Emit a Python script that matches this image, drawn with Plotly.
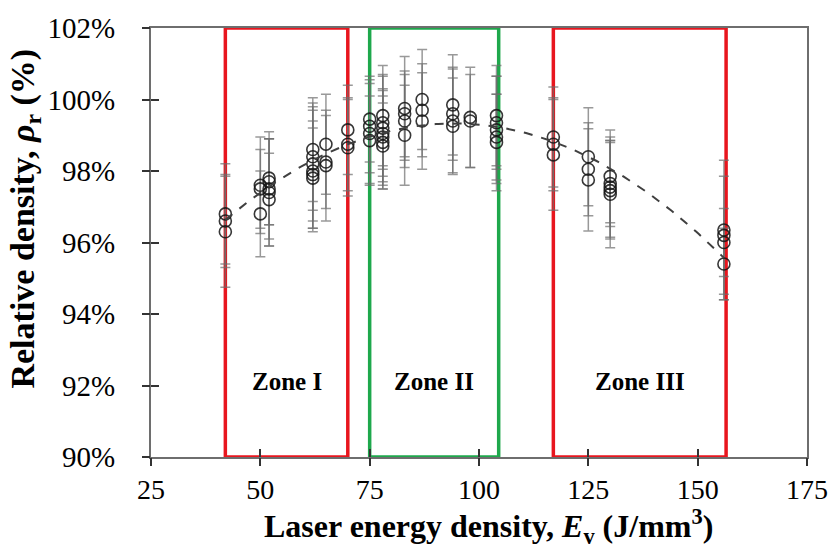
import numpy as np
import plotly.graph_objects as go

# ---- data ----
energy_density = [
    42, 42, 42,
    50, 50, 50,
    52, 52, 52, 52, 52,
    62, 62, 62, 62, 62, 62,
    65, 65, 65,
    70, 70, 70,
    75, 75, 75, 75,
    78, 78, 78, 78, 78, 78, 78,
    83, 83, 83, 83,
    87, 87, 87,
    94, 94, 94, 94,
    98, 98,
    104, 104, 104, 104, 104,
    117, 117, 117,
    125, 125, 125,
    130, 130, 130, 130, 130,
    156, 156, 156, 156,
]
relative_density = [
    96.8, 96.6, 96.3,
    97.6, 97.5, 96.8,
    97.8, 97.7, 97.5, 97.4, 97.2,
    98.6, 98.4, 98.2, 98.0, 97.9, 97.8,
    98.75, 98.25, 98.15,
    99.15, 98.75, 98.65,
    99.45, 99.25, 99.05, 98.85,
    99.55, 99.35, 99.2, 99.05, 98.95, 98.8, 98.7,
    99.75, 99.6, 99.4, 99.0,
    100.0, 99.7, 99.4,
    99.85, 99.6, 99.4, 99.25,
    99.5, 99.4,
    99.55, 99.35, 99.15, 98.95, 98.8,
    98.95, 98.75, 98.45,
    98.4, 98.05, 97.75,
    97.85, 97.65, 97.55, 97.45, 97.35,
    96.35, 96.2, 96.0, 95.4,
]
density_sd = [
    1.4, 1.3, 1.55,
    1.35, 1.1, 1.2,
    1.3, 1.2, 1.4, 1.5, 1.3,
    1.45, 1.5, 1.6, 1.7, 1.5, 1.4,
    1.4, 1.3, 1.55,
    1.25, 1.3, 1.35,
    1.2, 1.3, 1.4, 1.25,
    1.4, 1.3, 1.5, 1.2, 1.35, 1.3, 1.2,
    1.45, 1.2, 1.3, 1.4,
    1.4, 1.3, 1.35,
    1.4, 1.3, 1.45, 1.35,
    1.4, 1.3,
    1.4, 1.3, 1.5, 1.2, 1.35,
    1.4, 1.3, 1.55,
    1.37, 1.3, 1.43,
    1.3, 1.2, 1.4, 1.35, 1.5,
    1.95, 1.65, 0.95, 1.0,
]

zone_names = ["Zone I", "Zone II", "Zone III"]
zone_start = [42, 75, 117]
zone_end = [70, 104.5, 156.5]
zone_colors = ["#e8161e", "#1ea84c", "#e8161e"]

x_ticks = [25, 50, 75, 100, 125, 150, 175]
y_ticks = [90, 92, 94, 96, 98, 100, 102]
y_tick_text = ["90%", "92%", "94%", "96%", "98%", "100%", "102%"]

# ---- quadratic trend line (fitted to the data, as in the source) ----
coef = np.polyfit(energy_density, relative_density, 2)
trend_x = np.linspace(min(energy_density), max(energy_density), 200)
trend_y = np.polyval(coef, trend_x)

serif = "Liberation Serif"

fig = go.Figure()

fig.add_trace(go.Scatter(
    x=energy_density, y=relative_density, mode="markers",
    marker=dict(symbol="circle-open", size=12, color="rgba(20,20,20,0.85)",
                line=dict(width=1.6)),
    error_y=dict(type="data", array=density_sd, visible=True,
                 color="rgba(110,110,110,0.7)", thickness=1.5, width=5),
    showlegend=False,
))

fig.add_trace(go.Scatter(
    x=trend_x, y=trend_y, mode="lines",
    line=dict(color="#404040", width=2, dash="dash"),
    showlegend=False, hoverinfo="skip",
))

# invisible trace on overlay axes to draw the outer half of crossing tick marks
fig.add_trace(go.Scatter(x=[None], y=[None], xaxis="x2", yaxis="y2",
                         showlegend=False, hoverinfo="skip"))

shapes = []
annotations = []
for name, x0, x1, c in zip(zone_names, zone_start, zone_end, zone_colors):
    shapes.append(dict(type="rect", xref="x", yref="y", x0=x0, x1=x1,
                       y0=y_ticks[0], y1=y_ticks[-1],
                       line=dict(color=c, width=3.5), layer="below"))
    annotations.append(dict(x=(x0 + x1) / 2, y=92.1, xref="x", yref="y",
                            text="<b>%s</b>" % name, showarrow=False,
                            font=dict(family=serif, size=25, color="black")))

annotations.append(dict(
    x=-0.192, y=0.556, xref="paper", yref="paper", textangle=-90,
    xanchor="center", yanchor="middle",
    text="<b>Relative density, <i>ρ</i><sub>r</sub> (%)</b>", showarrow=False,
    font=dict(family=serif, size=34, color="black")))
annotations.append(dict(
    x=0.514, y=-0.163, xref="paper", yref="paper",
    xanchor="center", yanchor="middle",
    text="<b>Laser energy density, <i>E</i><sub>v</sub> (J/mm<sup>3</sup>)</b>",
    showarrow=False, font=dict(family=serif, size=32, color="black")))

axis_line = "#6e6e6e"
fig.update_layout(
    width=840, height=554,
    margin=dict(l=151, r=27, t=26, b=97),
    paper_bgcolor="white", plot_bgcolor="white",
    shapes=shapes, annotations=annotations,
    font=dict(family=serif),
    xaxis=dict(range=[25, 175], tickmode="array", tickvals=x_ticks,
               showgrid=False, zeroline=False,
               showline=True, linecolor=axis_line, linewidth=2, mirror=True,
               ticks="inside", ticklen=8, tickwidth=1.5, tickcolor="#333",
               ticklabelstandoff=6,
               tickfont=dict(family=serif, size=28, color="black")),
    yaxis=dict(range=[90, 102], tickmode="array", tickvals=y_ticks,
               ticktext=y_tick_text, showgrid=False,
               zeroline=False, showline=True, linecolor=axis_line, linewidth=2,
               mirror=True, ticks="inside", ticklen=8, tickwidth=1.5, tickcolor="#333",
               ticklabelstandoff=28,
               tickfont=dict(family=serif, size=29, color="black")),
    xaxis2=dict(range=[25, 175], tickmode="array", tickvals=x_ticks, overlaying="x",
                side="bottom", showticklabels=False, ticks="outside", ticklen=8,
                tickwidth=1.5, tickcolor="#333", showgrid=False, zeroline=False,
                showline=False),
    yaxis2=dict(range=[90, 102], tickmode="array", tickvals=y_ticks, overlaying="y",
                side="left", showticklabels=False, ticks="outside", ticklen=8,
                tickwidth=1.5, tickcolor="#333", showgrid=False, zeroline=False,
                showline=False),
)

fig.write_html("out.html", config={"displayModeBar": False},
               post_script="document.body.style.margin='0';document.body.style.overflow='hidden';")
